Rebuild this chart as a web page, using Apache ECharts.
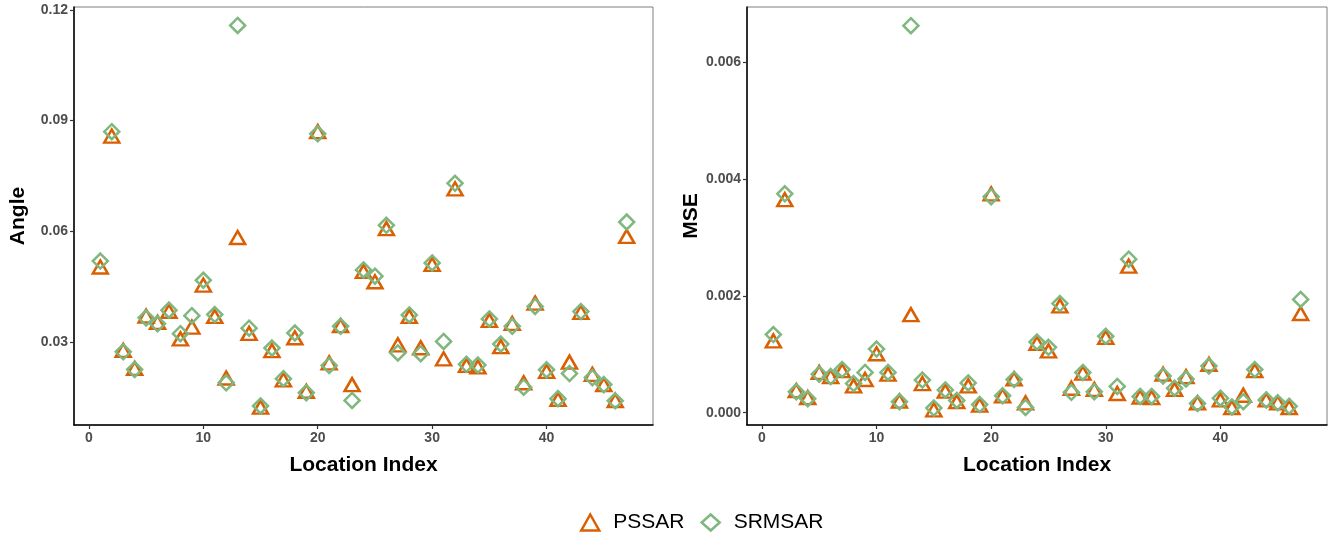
<!DOCTYPE html>
<html>
<head>
<meta charset="utf-8">
<script src="https://cdn.jsdelivr.net/npm/echarts@6/dist/echarts.min.js"></script>
<style>
  html, body { margin: 0; padding: 0; background: #fff; }
  #chart { width: 1341px; height: 535px; }
</style>
</head>
<body>
<div id="chart"></div>
<script>
const locations = Array.from({ length: 47 }, (_, i) => i + 1)

const anglePSSAR = [0.0503, 0.0858, 0.0277, 0.0228, 0.0370, 0.0353, 0.0383, 0.0308, 0.0340, 0.0454,
  0.0369, 0.0202, 0.0583, 0.0323, 0.0123, 0.0276, 0.0197, 0.0311, 0.0166, 0.0870,
  0.0243, 0.0344, 0.0184, 0.0491, 0.0463, 0.0607, 0.0292, 0.0369, 0.0284, 0.0510,
  0.0254, 0.0715, 0.0236, 0.0232, 0.0358, 0.0287, 0.0350, 0.0189, 0.0405, 0.0220,
  0.0144, 0.0245, 0.0380, 0.0212, 0.0184, 0.0141, 0.0586]
const angleSRMSAR = [0.0519, 0.0870, 0.0273, 0.0225, 0.0365, 0.0349, 0.0386, 0.0322, 0.0371, 0.0467,
  0.0374, 0.0189, 0.1158, 0.0337, 0.0126, 0.0283, 0.0200, 0.0324, 0.0162, 0.0864,
  0.0236, 0.0342, 0.0141, 0.0495, 0.0478, 0.0616, 0.0270, 0.0373, 0.0268, 0.0514,
  0.0301, 0.0730, 0.0239, 0.0237, 0.0362, 0.0294, 0.0342, 0.0177, 0.0396, 0.0224,
  0.0146, 0.0214, 0.0382, 0.0203, 0.0184, 0.0140, 0.0625]

const msePSSAR = [0.00123, 0.00365, 0.00038, 0.00026, 0.00069, 0.00062, 0.00072, 0.00046, 0.00057, 0.00101,
  0.00066, 0.00020, 0.00168, 0.00050, 0.00005, 0.00037, 0.00019, 0.00046, 0.00013, 0.00375,
  0.00029, 0.00058, 0.00017, 0.00119, 0.00106, 0.00183, 0.00042, 0.00068, 0.00040, 0.00129,
  0.00033, 0.00251, 0.00027, 0.00026, 0.00066, 0.00040, 0.00062, 0.00017, 0.00083, 0.00022,
  0.00009, 0.00030, 0.00072, 0.00022, 0.00017, 0.00009, 0.00170]
const mseSRMSAR = [0.00134, 0.00375, 0.00036, 0.00024, 0.00066, 0.00062, 0.00074, 0.00050, 0.00069, 0.00109,
  0.00069, 0.00019, 0.00663, 0.00056, 0.00008, 0.00039, 0.00021, 0.00051, 0.00014, 0.00370,
  0.00029, 0.00057, 0.00009, 0.00121, 0.00112, 0.00187, 0.00035, 0.00069, 0.00036, 0.00131,
  0.00045, 0.00263, 0.00028, 0.00028, 0.00063, 0.00042, 0.00058, 0.00016, 0.00080, 0.00025,
  0.00010, 0.00019, 0.00074, 0.00022, 0.00017, 0.00011, 0.00194]

const xTicks = [0, 10, 20, 30, 40]
const angleTicks = [0.03, 0.06, 0.09, 0.12]
const mseTicks = [0, 0.002, 0.004, 0.006]

const orange = '#D95F02'
const green = '#7FB77E'
const font = '"Liberation Sans", Arial, sans-serif'

const pairs = (ys) => locations.map((x, i) => [x, ys[i]])

const chart = echarts.init(document.getElementById('chart'))

const xAxisFor = (gridIndex) => ({
  type: 'value',
  gridIndex,
  min: -1.3,
  max: 49.3,
  name: 'Location Index',
  nameLocation: 'middle',
  nameGap: 30,
  nameTextStyle: { fontFamily: font, fontWeight: 'bold', fontSize: 21, color: '#000' },
  splitLine: { show: false },
  axisLine: { onZero: false, lineStyle: { color: '#000', width: 1.5 } },
  axisTick: { customValues: xTicks, length: 4, lineStyle: { color: '#333', width: 1.2 } },
  axisLabel: { customValues: xTicks, fontFamily: font, fontWeight: 'bold', fontSize: 14, color: '#4D4D4D', margin: 6 }
})

const yAxisFor = (gridIndex, name, min, max, ticks, digits, gap) => ({
  type: 'value',
  gridIndex,
  min,
  max,
  name,
  nameLocation: 'middle',
  nameGap: gap,
  nameTextStyle: { fontFamily: font, fontWeight: 'bold', fontSize: 21, color: '#000' },
  splitLine: { show: false },
  axisLine: { onZero: false, lineStyle: { color: '#000', width: 1.5 } },
  axisTick: { customValues: ticks, length: 4, lineStyle: { color: '#333', width: 1.2 } },
  axisLabel: {
    customValues: ticks,
    fontFamily: font, fontWeight: 'bold', fontSize: 14, color: '#4D4D4D', margin: 6,
    formatter: v => v.toFixed(digits)
  }
})

const scatter = (name, data, idx, symbol, color, size) => ({
  name,
  type: 'scatter',
  xAxisIndex: idx,
  yAxisIndex: idx,
  symbol,
  symbolSize: size,
  data,
  itemStyle: { color: 'rgba(0,0,0,0)', borderColor: color, borderWidth: 2.5, opacity: 1 },
  emphasis: { disabled: true }
})

chart.setOption({
  animation: false,
  grid: [
    { left: 74, right: 688, top: 7, bottom: 110, show: true, borderColor: '#7F7F7F', borderWidth: 1 },
    { left: 747, right: 14, top: 7, bottom: 110, show: true, borderColor: '#7F7F7F', borderWidth: 1 }
  ],
  legend: {
    top: 507,
    left: 575,
    itemGap: 16,
    itemWidth: 18,
    itemHeight: 16,
    textStyle: { fontFamily: font, fontSize: 21, color: '#000', padding: [0, 0, 0, 9] },
    data: [
      { name: 'PSSAR', icon: 'triangle', itemStyle: { color: 'rgba(0,0,0,0)', borderColor: orange, borderWidth: 2.5 } },
      { name: 'SRMSAR', icon: 'diamond', itemStyle: { color: 'rgba(0,0,0,0)', borderColor: green, borderWidth: 2.5 } }
    ]
  },
  xAxis: [xAxisFor(0), xAxisFor(1)],
  yAxis: [
    yAxisFor(0, 'Angle', 0.00745, 0.1208, angleTicks, 2, 45),
    yAxisFor(1, 'MSE', -0.00021, 0.00695, mseTicks, 3, 28)
  ],
  series: [
    scatter('PSSAR', pairs(anglePSSAR), 0, 'triangle', orange, [15, 13]),
    scatter('SRMSAR', pairs(angleSRMSAR), 0, 'diamond', green, [15, 15]),
    scatter('PSSAR', pairs(msePSSAR), 1, 'triangle', orange, [15, 13]),
    scatter('SRMSAR', pairs(mseSRMSAR), 1, 'diamond', green, [15, 15])
  ]
})
</script>
</body>
</html>
